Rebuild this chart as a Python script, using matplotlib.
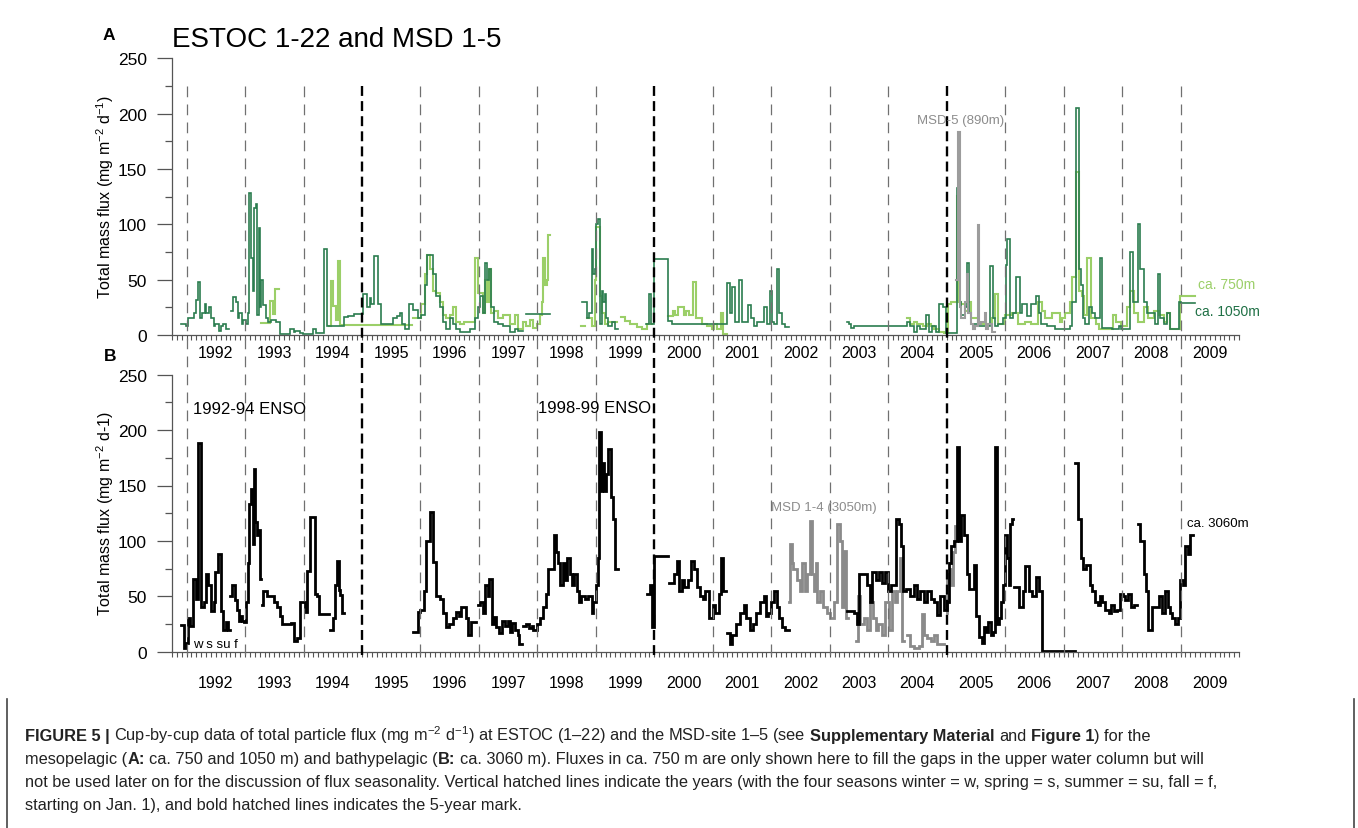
import numpy as np
import matplotlib
matplotlib.use('Agg')
import matplotlib.pyplot as plt
from matplotlib.lines import Line2D
from matplotlib import transforms, font_manager

plt.rcParams['font.family'] = 'Liberation Sans'
plt.rcParams['mathtext.fontset'] = 'custom'
plt.rcParams['mathtext.rm'] = 'Liberation Sans'
plt.rcParams['mathtext.it'] = 'Liberation Sans:italic'
plt.rcParams['mathtext.bf'] = 'Liberation Sans:bold'

nan = np.nan

# cup start (decimal year), flux (mg m-2 d-1); nan closes a deployment
flux_1050 = [
    (1991.90, 10), (1991.99, 8), (1992.02, 15), (1992.12, 20), (1992.16, 32), (1992.19, 48),
    (1992.23, 15), (1992.27, 20), (1992.31, 28), (1992.34, 20), (1992.38, 25), (1992.42, 15),
    (1992.46, 8), (1992.49, 10), (1992.55, 4), (1992.59, 8), (1992.62, 10), (1992.67, 5), (1992.73, nan),
    (1992.76, 22), (1992.80, 34), (1992.85, 30), (1992.88, 15), (1992.90, 20), (1992.94, 10),
    (1992.96, 14), (1993.01, 10), (1993.05, 20), (1993.06, 128), (1993.10, 70), (1993.13, 40),
    (1993.16, 115), (1993.19, 118), (1993.21, 18), (1993.23, 97), (1993.26, 25), (1993.27, 50),
    (1993.31, 27), (1993.35, 15), (1993.39, 12), (1993.45, 14), (1993.53, 12), (1993.60, 0.5),
    (1993.76, 5), (1993.83, 3), (1993.86, 4), (1993.94, 2), (1993.99, 1), (1994.16, 5), (1994.22, 2),
    (1994.35, 78), (1994.40, 8), (1994.70, 16), (1994.76, 17), (1994.87, 19), (1995.02, 37),
    (1995.09, 25), (1995.13, 33), (1995.16, 28), (1995.21, 71), (1995.27, 28), (1995.33, 10),
    (1995.53, 15), (1995.59, 17), (1995.65, 20), (1995.69, 10), (1995.73, 5), (1995.81, 28),
    (1995.87, 23), (1995.95, 15), (1996.01, 18), (1996.07, 45), (1996.11, 72), (1996.21, 55),
    (1996.27, 35), (1996.33, 25), (1996.38, 12), (1996.44, 5), (1996.50, 15), (1996.55, 10),
    (1996.61, 5), (1996.67, 3), (1996.84, 5), (1996.93, 15), (1996.98, 25), (1997.01, 35),
    (1997.07, 20), (1997.11, 65), (1997.14, 50), (1997.17, 60), (1997.21, 25), (1997.25, 12),
    (1997.33, 10), (1997.41, 8), (1997.53, 3), (1997.61, 5), (1997.67, 4), (1997.75, nan),
    (1997.81, 18.7), (1998.21, nan),
    (1998.77, 30), (1998.84, 15), (1998.89, 20), (1998.93, 78), (1998.95, 55), (1998.98, 60),
    (1999.01, 100), (1999.04, 105), (1999.07, 10), (1999.10, 40), (1999.13, 30), (1999.15, 37),
    (1999.18, 15), (1999.21, 8), (1999.27, 12), (1999.33, 5), (1999.37, nan),
    (1999.86, 10), (1999.91, 37), (1999.95, 10), (2000.00, 69), (2000.24, 13), (2000.31, 10),
    (2001.24, 47), (2001.29, 20), (2001.33, 43), (2001.38, 12), (2001.44, 50), (2001.50, 12),
    (2001.61, 27), (2001.65, 15), (2001.71, 8), (2001.75, 12), (2001.87, 25), (2001.93, 10),
    (2001.97, 40), (2002.01, 12), (2002.04, 10), (2002.09, 60), (2002.14, 20), (2002.18, 10),
    (2002.24, 7), (2002.30, nan),
    (2003.29, 12), (2003.33, 10), (2003.37, 6), (2003.41, 8), (2004.33, 12), (2004.38, 8),
    (2004.44, 3), (2004.50, 8), (2004.55, 5), (2004.64, 18), (2004.70, 3), (2004.75, 8),
    (2004.81, 3), (2004.87, 28), (2004.93, 25), (2004.98, 2), (2005.18, 133), (2005.22, 30),
    (2005.25, 18), (2005.31, 25), (2005.34, 65), (2005.38, 20), (2005.42, 10), (2005.54, 8),
    (2005.74, 62), (2005.79, 15), (2005.82, 8), (2005.88, 10), (2005.97, 15), (2006.01, 63),
    (2006.04, 87), (2006.08, 15), (2006.14, 20), (2006.19, 52), (2006.25, 20), (2006.29, 28),
    (2006.37, 17), (2006.45, 28), (2006.52, 35), (2006.58, 20), (2006.62, 10), (2006.71, 8),
    (2006.85, 5), (2007.11, 8), (2007.14, 30), (2007.22, 205), (2007.26, 60), (2007.30, 45),
    (2007.34, 15), (2007.37, 10), (2007.43, 25), (2007.48, 20), (2007.54, 15), (2007.62, 70),
    (2007.66, 6), (2007.82, 5), (2007.94, 8), (2007.99, 5), (2008.14, 75), (2008.19, 30),
    (2008.28, 100), (2008.31, 60), (2008.37, 30), (2008.42, 20), (2008.57, 10), (2008.61, 55),
    (2008.65, 15), (2008.71, 10), (2008.77, 20), (2008.82, 5), (2008.97, 30), (2009.00, 29),
    (2009.25, nan),
]

flux_750 = [
    (1993.28, 11), (1993.42, 31), (1993.47, 19), (1993.52, 42), (1993.58, nan),
    (1994.44, 8), (1994.47, 49), (1994.51, 26), (1994.55, 14), (1994.59, 67), (1994.63, 9), (1995.86, nan),
    (1995.87, 15), (1996.01, 28), (1996.07, 55), (1996.11, 72), (1996.16, 60), (1996.21, 40),
    (1996.27, 38), (1996.33, 30), (1996.38, 18), (1996.44, 15), (1996.50, 18), (1996.55, 25),
    (1996.61, 12), (1996.67, 10), (1996.75, 12), (1996.93, 70), (1996.99, 38), (1997.07, 20),
    (1997.11, 50), (1997.14, 30), (1997.17, 60), (1997.21, 20), (1997.25, 22), (1997.33, 15),
    (1997.41, 18), (1997.53, 10), (1997.61, 18), (1997.67, 5), (1997.75, 12), (1997.81, 8),
    (1997.87, 14), (1997.93, 6), (1998.00, 10), (1998.05, 18), (1998.08, 30), (1998.10, 70),
    (1998.13, 45), (1998.16, 50), (1998.18, 90), (1998.22, nan),
    (1998.75, 8), (1998.81, nan),
    (1998.84, 15), (1998.93, 8), (1998.98, 50), (1999.01, 98), (1999.07, 35), (1999.10, 20),
    (1999.15, 10), (1999.21, 12), (1999.36, nan),
    (1999.43, 16), (1999.50, 13), (1999.59, 10), (1999.70, 7), (1999.79, 5), (1999.87, 10), (1999.96, nan),
    (2000.23, 17), (2000.32, 22), (2000.36, 18), (2000.41, 25), (2000.51, 18), (2000.55, 22),
    (2000.59, 18), (2000.66, 48), (2000.71, 15), (2000.81, 10), (2000.90, 8), (2000.98, 5),
    (2001.02, 10), (2001.07, 5), (2001.14, 20), (2001.18, 0.5), (2001.24, nan),
    (2004.33, 15), (2004.38, 10), (2004.44, 12), (2004.50, 10), (2004.59, 8), (2004.67, 10),
    (2004.73, 8), (2004.79, 5), (2004.87, 3), (2004.95, 2), (2005.02, 28), (2005.08, 30),
    (2005.18, 126), (2005.21, 30), (2005.25, 28), (2005.31, 22), (2005.37, 30), (2005.42, 15),
    (2005.54, 10), (2005.77, 15), (2005.82, 37), (2005.88, 10), (2006.00, 18), (2006.11, 20),
    (2006.22, 10), (2006.34, 12), (2006.45, 10), (2006.57, 30), (2006.63, 22), (2006.68, 15),
    (2006.80, 20), (2006.94, 12), (2006.98, 15), (2007.03, 20), (2007.11, 30), (2007.14, 52),
    (2007.22, 147), (2007.26, 40), (2007.31, 35), (2007.35, 18), (2007.40, 70), (2007.47, 15),
    (2007.55, 10), (2007.61, 5), (2007.84, 18), (2007.90, 12), (2007.99, 8), (2008.08, 25),
    (2008.13, 40), (2008.20, 20), (2008.28, 12), (2008.37, 25), (2008.45, 15), (2008.54, 22),
    (2008.63, 18), (2008.71, 12), (2008.77, 20), (2008.82, 5), (2008.99, 35.5), (2009.25, nan),
]

flux_msd5 = [
    (2005.16, 50), (2005.19, 183), (2005.22, 25), (2005.25, 15), (2005.31, 30), (2005.34, 55),
    (2005.37, 20), (2005.42, 10), (2005.45, 5), (2005.48, 8), (2005.53, 99), (2005.55, 10),
    (2005.59, 12), (2005.65, 20), (2005.68, 5), (2005.71, 10), (2005.77, 3), (2005.82, nan),
]

flux_3060 = [
    (1991.90, 24), (1991.95, 3), (1991.99, 8), (1992.02, 30), (1992.06, 23), (1992.11, 66),
    (1992.16, 48), (1992.19, 188), (1992.25, 40), (1992.30, 45), (1992.33, 70), (1992.37, 60),
    (1992.41, 37), (1992.46, 45), (1992.49, 72), (1992.53, 88), (1992.58, 37), (1992.62, 20),
    (1992.67, 27), (1992.71, 20), (1992.74, nan),
    (1992.75, 50), (1992.78, 60), (1992.83, 47), (1992.86, 38), (1992.89, 28), (1992.91, 32),
    (1992.95, 28), (1992.98, 27), (1993.02, 45), (1993.05, 80), (1993.07, 133), (1993.10, 147),
    (1993.13, 97), (1993.15, 165), (1993.17, 117), (1993.20, 105), (1993.23, 110), (1993.26, 66),
    (1993.28, nan),
    (1993.29, 42), (1993.31, 55), (1993.38, 50), (1993.50, 45), (1993.55, 40), (1993.59, 32),
    (1993.63, 25), (1993.78, 26), (1993.83, 10), (1993.89, 12), (1993.94, 45), (1994.02, 36),
    (1994.06, 73), (1994.11, 122), (1994.19, 52), (1994.23, 50), (1994.27, 34), (1994.44, nan),
    (1994.45, 20), (1994.50, 30), (1994.54, 60), (1994.57, 82), (1994.60, 56), (1994.63, 51),
    (1994.66, 35), (1994.69, nan),
    (1995.87, 18), (1995.96, 36), (1996.00, 38), (1996.06, 55), (1996.10, 100), (1996.16, 126),
    (1996.22, 81), (1996.27, 50), (1996.33, 48), (1996.38, 35), (1996.43, 22), (1996.49, 25),
    (1996.56, 30), (1996.61, 36), (1996.66, 32), (1996.70, 40), (1996.78, 30), (1996.82, 15),
    (1996.87, 27), (1996.95, nan),
    (1996.98, 42), (1997.02, 45), (1997.07, 35), (1997.11, 60), (1997.15, 50), (1997.18, 66),
    (1997.22, 25), (1997.26, 31), (1997.30, 22), (1997.35, 17), (1997.39, 28), (1997.45, 23),
    (1997.49, 28), (1997.53, 18), (1997.56, 26), (1997.62, 20), (1997.66, 15), (1997.69, 7),
    (1997.73, nan),
    (1997.75, 23), (1997.80, 25), (1997.85, 21), (1997.90, 23), (1997.93, 20), (1998.00, 25),
    (1998.04, 30), (1998.10, 40), (1998.14, 52), (1998.18, 75), (1998.28, 105), (1998.31, 90),
    (1998.35, 80), (1998.39, 60), (1998.44, 80), (1998.47, 65), (1998.51, 85), (1998.55, 70),
    (1998.59, 60), (1998.62, 70), (1998.67, 55), (1998.71, 45), (1998.75, 50), (1998.81, 48),
    (1998.87, 50), (1998.93, 35), (1998.95, 45), (1999.00, 60), (1999.03, 85), (1999.06, 198),
    (1999.08, 145), (1999.11, 170), (1999.14, 145), (1999.17, 160), (1999.21, 183), (1999.26, 140),
    (1999.30, 120), (1999.33, 75), (1999.37, nan),
    (1999.87, 52), (1999.93, 60), (1999.96, 22), (1999.99, 86), (2000.24, nan),
    (2000.25, 62), (2000.33, 70), (2000.38, 82), (2000.43, 55), (2000.47, 65), (2000.51, 58),
    (2000.58, 65), (2000.62, 82), (2000.67, 75), (2000.73, 58), (2000.78, 50), (2000.83, 48),
    (2000.87, 55), (2000.93, 30), (2001.00, 42), (2001.04, 35), (2001.10, 52), (2001.14, 85),
    (2001.18, 55), (2001.23, nan),
    (2001.24, 17), (2001.29, 7), (2001.33, 15), (2001.40, 25), (2001.47, 35), (2001.53, 42),
    (2001.57, 30), (2001.63, 20), (2001.69, 25), (2001.74, 35), (2001.81, 45), (2001.87, 50),
    (2001.91, 32), (2001.95, 35), (2001.99, 45), (2002.05, 55), (2002.10, 40), (2002.14, 30),
    (2002.18, 22), (2002.24, 20), (2002.30, nan),
    (2003.29, 37), (2003.41, 35), (2003.46, 25), (2003.50, 70), (2003.64, 60), (2003.69, 45),
    (2003.73, 72), (2003.79, 65), (2003.84, 72), (2003.90, 62), (2003.95, 72), (2003.99, 55),
    (2004.04, 60), (2004.14, 120), (2004.18, 115), (2004.22, 95), (2004.26, 55), (2004.31, 57),
    (2004.38, 50), (2004.44, 60), (2004.50, 48), (2004.55, 55), (2004.61, 45), (2004.67, 55),
    (2004.73, 48), (2004.78, 45), (2004.84, 33), (2004.89, 50), (2004.95, 38), (2005.01, 45),
    (2005.04, 80), (2005.08, 95), (2005.13, 100), (2005.18, 185), (2005.21, 100), (2005.25, 123),
    (2005.30, 105), (2005.34, 70), (2005.38, 57), (2005.47, 78), (2005.51, 32), (2005.55, 13),
    (2005.60, 8), (2005.63, 22), (2005.67, 18), (2005.71, 27), (2005.76, 15), (2005.80, 18),
    (2005.83, 185), (2005.86, 25), (2005.89, 30), (2005.93, 45), (2005.97, 60), (2006.00, 105),
    (2006.03, 85), (2006.06, 60), (2006.09, 115), (2006.11, 120), (2006.14, nan),
    (2006.16, 58), (2006.23, 40), (2006.30, 55), (2006.34, 77), (2006.41, 55), (2006.46, 50),
    (2006.52, 67), (2006.58, 55), (2006.63, 1), (2007.19, nan),
    (2007.20, 170), (2007.25, 120), (2007.30, 85), (2007.34, 75), (2007.39, 78), (2007.45, 60),
    (2007.49, 55), (2007.54, 45), (2007.59, 42), (2007.62, 50), (2007.66, 45), (2007.71, 38),
    (2007.77, 35), (2007.81, 42), (2007.87, 37), (2007.91, 38), (2007.97, 52), (2008.01, 50),
    (2008.05, 47), (2008.11, 52), (2008.15, 40), (2008.20, 42), (2008.25, nan),
    (2008.27, 115), (2008.31, 100), (2008.37, 70), (2008.41, 55), (2008.45, 20), (2008.51, 40),
    (2008.63, 50), (2008.68, 35), (2008.74, 55), (2008.78, 40), (2008.82, 35), (2008.86, 30),
    (2008.91, 25), (2008.95, 30), (2008.99, 65), (2009.05, 60), (2009.08, 95), (2009.12, 88),
    (2009.17, 105), (2009.22, nan),
]

flux_msd14 = [
    (2002.30, 45), (2002.32, 97), (2002.35, 80), (2002.38, 75), (2002.44, 65), (2002.49, 55),
    (2002.53, 80), (2002.57, 55), (2002.61, 70), (2002.66, 118), (2002.70, 70), (2002.73, 55),
    (2002.76, 80), (2002.78, 45), (2002.83, 55), (2002.89, 40), (2002.95, 35), (2003.01, 30),
    (2003.07, 45), (2003.12, 115), (2003.17, 100), (2003.21, 40), (2003.25, 91), (2003.28, 30),
    (2003.32, nan),
    (2003.45, 10), (2003.49, 50), (2003.52, 25), (2003.58, 30), (2003.64, 20), (2003.69, 45),
    (2003.74, 30), (2003.79, 20), (2003.83, 25), (2003.89, 15), (2003.95, 45), (2004.01, 20),
    (2004.07, 55), (2004.12, 45), (2004.15, 55), (2004.21, 85), (2004.24, 10), (2004.27, nan),
    (2004.33, 15), (2004.38, 5), (2004.44, 3), (2004.53, 5), (2004.58, 34), (2004.61, 15),
    (2004.67, 12), (2004.73, 10), (2004.78, 15), (2004.84, 7), (2004.95, nan),
    (2005.00, 35), (2005.01, 70), (2005.05, 75), (2005.08, 60), (2005.11, 90), (2005.14, 113),
    (2005.20, nan),
]

years = np.arange(1992, 2010)
bold_years = [1995, 2000, 2005]

W, H = 1358, 829
fig = plt.figure(figsize=(W / 100, H / 100), dpi=100)
axA = fig.add_axes([172 / W, 1 - 336 / H, 1067 / W, 276.7 / H])
axB = fig.add_axes([172 / W, 1 - 652.7 / H, 1067 / W, 277 / H])


def steps(ax, data, **kw):
    t, v = zip(*data)
    ax.plot(t, v, drawstyle='steps-post', solid_joinstyle='miter', **kw)


steps(axA, flux_750, color='#9bcf68', lw=1.5)
steps(axA, flux_1050, color='#2b7d4f', lw=1.2)
steps(axA, flux_msd5, color='#9c9c9c', lw=1.5)
steps(axB, flux_msd14, color='#8a8a8a', lw=2.0)
steps(axB, flux_3060, color='black', lw=2.0)

for ax, off in ((axA, -12.5), (axB, -22)):
    ax.set_xlim(1991.75, 2010.0)
    ax.set_ylim(0, 250)
    ax.spines[['top', 'right']].set_visible(False)
    ax.spines[['left', 'bottom']].set_color('#555555')
    ax.spines[['left', 'bottom']].set_linewidth(0.9)
    ax.set_yticks(np.arange(0, 251, 50))
    ax.set_yticks(np.arange(25, 250, 50), minor=True)
    ax.set_xticks(years)
    ax.set_xticks(np.arange(1991.75, 2010.01, 1 / 12), minor=True)
    ax.set_xticklabels([])
    ax.tick_params(axis='y', which='major', length=11, width=0.9, color='#555555',
                   labelsize=12.5, pad=7)
    ax.tick_params(axis='y', which='minor', length=5, width=0.9, color='#555555')
    ax.tick_params(axis='x', which='both', length=3.5, width=0.8, color='#555555')
    for yr in years:
        ax.annotate(str(yr), (yr + 0.5, 0), xycoords=('data', 'axes fraction'),
                    xytext=(0, off), textcoords='offset points',
                    ha='center', va='center', fontsize=11.5)

# year marks running through both panels, bold every five years
trans = transforms.blended_transform_factory(axA.transData, fig.transFigure)
for yr in years:
    if yr in bold_years:
        style = dict(color='black', lw=1.7, linestyle=(0, (4.2, 2.2)))
    else:
        style = dict(color='#707070', lw=0.9, linestyle=(0, (8.6, 5.8)))
    fig.add_artist(Line2D([yr, yr], [1 - 87 / H, 1 - 660 / H], transform=trans, **style))


def ftext(x, y, s, **kw):
    return fig.text(x / W, 1 - y / H, s, **kw)


ftext(103, 40, 'A', fontsize=12.5, fontweight='bold', va='baseline')
ftext(104, 361, 'B', fontsize=12.5, fontweight='bold', va='baseline')
ftext(172, 47, 'ESTOC 1-22 and MSD 1-5', fontsize=20, va='baseline')
ftext(105, 197.5, 'Total mass flux (mg m$^{-2}$ d$^{-1}$)', rotation=90,
      ha='center', va='center', fontsize=11.5)
ftext(105, 514, 'Total mass flux (mg m$^{-2}$ d-1)', rotation=90,
      ha='center', va='center', fontsize=11.5)

ftext(917, 121, 'MSD-5 (890m)', fontsize=9.5, color='#8c8c8c', va='center')
ftext(1198, 285, 'ca. 750m', fontsize=10, color='#9bcf68', va='center')
ftext(1195, 312, 'ca. 1050m', fontsize=10, color='#1f7045', va='center')
ftext(193, 410, '1992-94 ENSO', fontsize=12, va='center')
ftext(538, 409, '1998-99 ENSO', fontsize=12, va='center')
ftext(771, 508, 'MSD 1-4 (3050m)', fontsize=9.5, color='#8c8c8c', va='center')
ftext(1187, 524, 'ca. 3060m', fontsize=9.5, va='center')
ftext(193, 645, 'w s su f', fontsize=9.5, va='center')

# caption box
for xb in (7, 1354):
    fig.add_artist(Line2D([xb / W, xb / W], [0, 1 - 700 / H], transform=fig.transFigure,
                          color='#444444', lw=1.2))

names = {f.name for f in font_manager.fontManager.ttflist}
cap_font = 'Liberation Sans Narrow' if 'Liberation Sans Narrow' in names else 'Liberation Sans'

caption = [
    [('FIGURE 5 |', True), (' Cup-by-cup data of total particle flux (mg m$^{-2}$ d$^{-1}$) at ESTOC (1–22) and the MSD-site 1–5 (see', False),
     (' Supplementary Material', True), (' and', False), (' Figure 1', True), (') for the', False)],
    [('mesopelagic (', False), ('A:', True), (' ca. 750 and 1050 m) and bathypelagic (', False), ('B:', True),
     (' ca. 3060 m). Fluxes in ca. 750 m are only shown here to fill the gaps in the upper water column but will', False)],
    [('not be used later on for the discussion of flux seasonality. Vertical hatched lines indicate the years (with the four seasons winter = w, spring = s, summer = su, fall = f,', False)],
    [('starting on Jan. 1), and bold hatched lines indicates the 5-year mark.', False)],
]
cap_base = [741, 764, 787, 810]
renderer = fig.canvas.get_renderer()


def width_of(s, size, bold):
    t = ftext(0, 0, s, fontsize=size, family=cap_font, fontweight='bold' if bold else 'normal')
    w = t.get_window_extent(renderer).width
    t.remove()
    return w


def seg_width(s, size, bold):
    # leading spaces are not measured by the text extent, so add them on
    n = len(s) - len(s.lstrip(' '))
    sp = width_of('a a', size, bold) - width_of('aa', size, bold)
    return n * sp + width_of(s.strip(' '), size, bold)


line1 = sum(seg_width(s, 10, b) for s, b in caption[0])
cap_size = 10 * 1125 / line1

for parts, yb in zip(caption, cap_base):
    x = 25
    for s, b in parts:
        n = len(s) - len(s.lstrip(' '))
        sp = width_of('a a', cap_size, b) - width_of('aa', cap_size, b)
        x += n * sp
        body = s.strip(' ')
        ftext(x, yb, body, fontsize=cap_size, family=cap_font, color='#222222',
              fontweight='bold' if b else 'normal', va='baseline')
        x += width_of(body, cap_size, b)

fig.savefig('out.png', dpi=100)
